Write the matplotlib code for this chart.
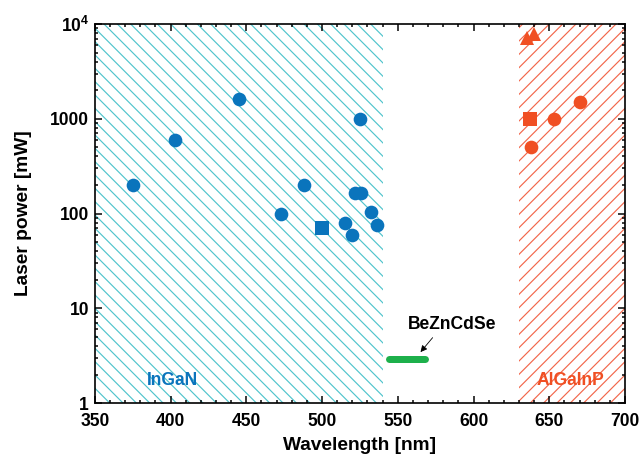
import matplotlib
matplotlib.use("Agg")
import matplotlib.pyplot as plt
from matplotlib.ticker import FixedLocator, FixedFormatter, LogLocator, NullFormatter, MultipleLocator

plt.rcParams['font.family'] = ['Liberation Sans', 'DejaVu Sans']
plt.rcParams['font.weight'] = 'bold'
plt.rcParams['mathtext.fontset'] = 'custom'
plt.rcParams['mathtext.rm'] = 'Liberation Sans:bold'
plt.rcParams['mathtext.it'] = 'Liberation Sans:bold'
plt.rcParams['mathtext.bf'] = 'Liberation Sans:bold'
plt.rcParams['hatch.linewidth'] = 0.7

BLUE = '#0a74bc'
RED = '#f04f23'
GREEN = '#1db04b'
CYAN_HATCH = '#4fc4cc'
RED_HATCH = '#f2664a'

# material wavelength ranges (nm)
ingan_range = (350, 540)
algainp_range = (630, 700)

# InGaN lasers
ingan_circle_wl = [375, 403, 445, 473, 488, 515, 520, 522, 526, 525, 532, 536]
ingan_circle_pw = [200, 600, 1600, 100, 200, 80, 60, 165, 165, 1000, 105, 75]
ingan_square_wl = [500]
ingan_square_pw = [70]

# AlGaInP lasers
algainp_circle_wl = [638, 653, 670]
algainp_circle_pw = [500, 1000, 1500]
algainp_square_wl = [637]
algainp_square_pw = [1000]
algainp_tri_wl = [635, 640]
algainp_tri_pw = [7200, 7900]

# BeZnCdSe
bezn_wl = [544, 568]
bezn_pw = [2.9, 2.9]

x_ticks = [350, 400, 450, 500, 550, 600, 650, 700]
y_ticks = [1, 10, 100, 1000, 10000]
y_labels = ['1', '10', '100', '1000', r'$10^{4}$']

fig = plt.figure(figsize=(641 / 120, 457 / 120), dpi=120)
ax = fig.add_axes([0.148, 0.118, 0.827, 0.8295])

ax.axvspan(*ingan_range, facecolor='none', edgecolor=CYAN_HATCH, hatch='\\\\\\', linewidth=0, zorder=0)
ax.axvspan(*algainp_range, facecolor='none', edgecolor=RED_HATCH, hatch='///', linewidth=0, zorder=0)

ms = 8.2
ax.plot(ingan_circle_wl, ingan_circle_pw, 'o', color=BLUE, ms=ms, mec='none', zorder=3)
ax.plot(ingan_square_wl, ingan_square_pw, 's', color=BLUE, ms=ms, mec='none', zorder=3)
ax.plot(algainp_circle_wl, algainp_circle_pw, 'o', color=RED, ms=ms, mec='none', zorder=3)
ax.plot(algainp_square_wl, algainp_square_pw, 's', color=RED, ms=ms, mec='none', zorder=3)
ax.plot(algainp_tri_wl, algainp_tri_pw, '^', color=RED, ms=ms + 0.5, mec='none', zorder=3)
ax.plot(bezn_wl, bezn_pw, '-', color=GREEN, lw=4.2, solid_capstyle='round', zorder=3)

ax.text(586, 6.7, 'BeZnCdSe', ha='center', va='center', fontsize=10.5, fontweight='bold', color='black')
ax.annotate('', xy=(565, 3.45), xytext=(573, 4.9),
            arrowprops=dict(arrowstyle='-|>', color='black', lw=0.5, mutation_scale=8,
                            shrinkA=0, shrinkB=0))
ax.text(401, 1.75, 'InGaN', ha='center', va='center', fontsize=10.5, fontweight='bold', color=BLUE)
ax.text(664, 1.75, 'AlGaInP', ha='center', va='center', fontsize=10.5, fontweight='bold', color=RED)

ax.set_xlim(350, 700)
ax.set_yscale('log')
ax.set_ylim(1, 10000)
ax.xaxis.set_major_locator(FixedLocator(x_ticks))
ax.xaxis.set_minor_locator(MultipleLocator(10))
ax.yaxis.set_major_locator(FixedLocator(y_ticks))
ax.yaxis.set_major_formatter(FixedFormatter(y_labels))
ax.yaxis.set_minor_locator(LogLocator(base=10, subs=range(2, 10)))
ax.yaxis.set_minor_formatter(NullFormatter())

ax.tick_params(which='both', direction='in', top=True, right=True, width=0.9, labelsize=10.5)
ax.tick_params(axis='x', which='major', pad=6)
ax.tick_params(which='major', length=4)
ax.tick_params(which='minor', length=2)
for s in ax.spines.values():
    s.set_linewidth(1.0)

ax.set_xlabel('Wavelength [nm]', fontsize=11.5, fontweight='bold', labelpad=4)
ax.set_ylabel('Laser power [mW]', fontsize=11.5, fontweight='bold', labelpad=11)

fig.savefig('out.png', dpi=120)
